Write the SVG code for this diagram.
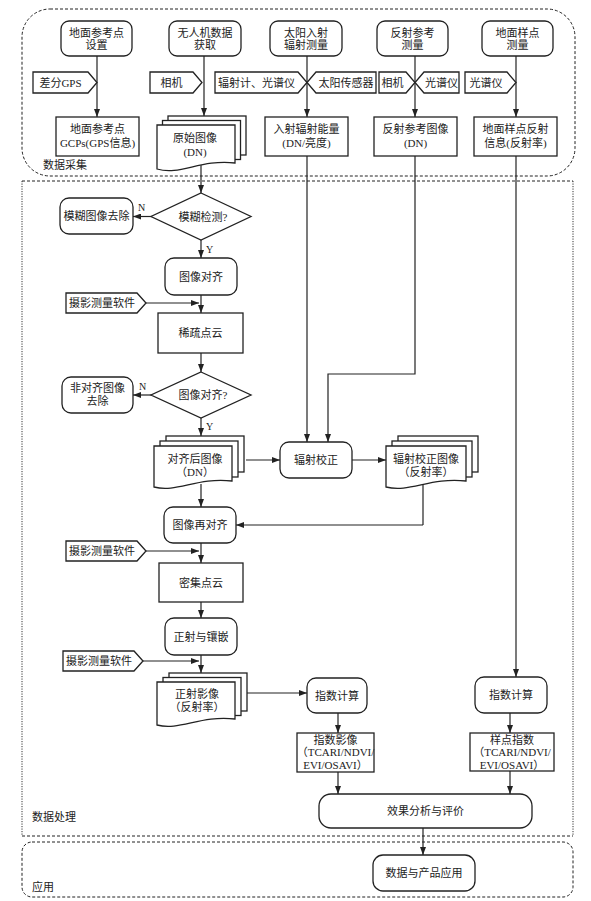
<svg xmlns="http://www.w3.org/2000/svg" width="591" height="901" viewBox="0 0 591 901">
<defs>
<marker id="ah" markerWidth="8" markerHeight="6" refX="8" refY="3" orient="auto" markerUnits="userSpaceOnUse"><path d="M0,0 L8,3 L0,6 Z" fill="#222"/></marker>
<style>
.n{fill:#fff;stroke:#222;stroke-width:1.3}
.c{fill:none;stroke:#222;stroke-width:1.2;marker-end:url(#ah)}
.l{fill:none;stroke:#222;stroke-width:1.2}
.t{font-family:"Liberation Serif","Noto Sans CJK SC",serif;font-size:11px;fill:#222;text-anchor:middle}
.lb{font-family:"Liberation Serif","Noto Sans CJK SC",serif;font-size:11px;fill:#222}
.r{fill:none;stroke:#222;stroke-width:1;stroke-dasharray:3 2}
.rd{fill:none;stroke:#333;stroke-width:1;stroke-dasharray:1.2 1.3}
</style>
</defs>
<rect width="591" height="901" fill="#fff"/>
<g id="regions">
<rect class="r" x="22" y="9" width="553" height="167" rx="28"/>
<text class="lb" x="43" y="169">数据采集</text>
<line class="r" x1="22" y1="181" x2="573" y2="181"/>
<line class="r" x1="22" y1="836" x2="573" y2="836"/>
<line class="rd" x1="22" y1="181" x2="22" y2="836"/>
<line class="rd" x1="573" y1="181" x2="573" y2="836"/>
<text class="lb" x="32" y="821">数据处理</text>
<rect class="r" x="22" y="842" width="551" height="55" rx="10"/>
<text class="lb" x="32" y="891">应用</text>
</g>
<g id="connectors">
<path class="c" d="M97,56 V117"/>
<path class="c" d="M204,56 V116"/>
<path class="c" d="M307,56 V117"/>
<path class="c" d="M415,56 V117"/>
<path class="c" d="M516,56 V117"/>
<path class="c" d="M307,156 V442"/>
<path class="c" d="M415,156 V374 H328 V442"/>
<path class="c" d="M516,156 V677"/>
<path class="c" d="M201,165 V193"/>
<path class="c" d="M152,216.5 H133"/>
<path class="c" d="M201,240 V258"/>
<path class="c" d="M201,295 V313"/>
<path class="c" d="M146,303 H199"/>
<path class="c" d="M201,353 V372"/>
<path class="c" d="M152,395 H133"/>
<path class="c" d="M201,418 V436"/>
<path class="c" d="M246,460 H280"/>
<path class="c" d="M352,460 H386"/>
<path class="l" d="M423,480 V525"/>
<path class="c" d="M423,525 H236"/>
<path class="c" d="M201,484 V507"/>
<path class="c" d="M146,551 H199"/>
<path class="c" d="M201,543 V563"/>
<path class="c" d="M201,602 V618"/>
<path class="c" d="M143,661 H199"/>
<path class="c" d="M201,655 V673"/>
<path class="c" d="M247,693 H307"/>
<path class="c" d="M338,713 V733"/>
<path class="c" d="M510,713 V733"/>
<path class="c" d="M338,772 V794"/>
<path class="c" d="M510,771 V794"/>
<path class="c" d="M423,828 V855"/>
<text class="lb" x="138" y="211" style="font-size:10px">N</text>
<text class="lb" x="206" y="253" style="font-size:10px">Y</text>
<text class="lb" x="139" y="390" style="font-size:10px">N</text>
<text class="lb" x="206" y="430" style="font-size:10px">Y</text>
</g>
<g id="n-dmckd">
<rect class="n" x="61" y="21" width="71" height="35" rx="8"/>
<text class="t" x="96.5" y="36.5">地面参考点</text><text class="t" x="96.5" y="49">设置</text>
</g>
<g id="n-uav">
<rect class="n" x="169" y="21" width="72" height="35" rx="8"/>
<text class="t" x="205" y="36.5">无人机数据</text><text class="t" x="205" y="49">获取</text>
</g>
<g id="n-sun">
<rect class="n" x="270" y="21" width="72" height="35" rx="8"/>
<text class="t" x="306" y="36.5">太阳入射</text><text class="t" x="306" y="49">辐射测量</text>
</g>
<g id="n-refl">
<rect class="n" x="377" y="21" width="71" height="35" rx="8"/>
<text class="t" x="412.5" y="36.5">反射参考</text><text class="t" x="412.5" y="49">测量</text>
</g>
<g id="n-sample">
<rect class="n" x="482" y="21" width="71" height="35" rx="8"/>
<text class="t" x="517.5" y="36.5">地面样点</text><text class="t" x="517.5" y="49">测量</text>
</g>
<g id="tag-gps"><path class="n" d="M33,72 H88 L97,82.5 L88,93 H33 Z"/><text class="t" x="60.5" y="86.5">差分GPS</text></g>
<g id="tag-cam1"><path class="n" d="M150,72 H193 L202,82.5 L193,93 H150 Z"/><text class="t" x="171.5" y="86.5">相机</text></g>
<g id="tag-rad"><path class="n" d="M215,72 H298 L307,82.5 L298,93 H215 Z"/><text class="t" x="256.5" y="86.5">辐射计、光谱仪</text></g>
<g id="tag-sunsensor"><path class="n" d="M376,72 H316 L307,82.5 L316,93 H376 Z"/><text class="t" x="346" y="86.5">太阳传感器</text></g>
<g id="tag-cam2"><path class="n" d="M379,72 H406 L415,82.5 L406,93 H379 Z"/><text class="t" x="392.5" y="86.5">相机</text></g>
<g id="tag-spec1"><path class="n" d="M459,72 H424 L415,82.5 L424,93 H459 Z"/><text class="t" x="441.5" y="86.5">光谱仪</text></g>
<g id="tag-spec2"><path class="n" d="M465,72 H507 L516,82.5 L507,93 H465 Z"/><text class="t" x="486" y="86.5">光谱仪</text></g>
<g id="n-gcp">
<rect class="n" x="56" y="117" width="83" height="39"/>
<text class="t" x="97.5" y="133">地面参考点</text><text class="t" x="97.5" y="146.5">GCPs(GPS信息)</text>
</g>
<g id="n-raw">
<rect class="n" x="168" y="116" width="78" height="39"/>
<rect class="n" x="162.5" y="120.5" width="78" height="39"/>
<path class="n" d="M157,125 H235 V163 C200,159 180,176 157,169 Z"/>
<text class="t" x="195" y="142">原始图像</text><text class="t" x="195" y="156">(DN)</text>
</g>
<g id="n-irr">
<rect class="n" x="265" y="117" width="83" height="39"/>
<text class="t" x="306.5" y="133">入射辐射能量</text><text class="t" x="306.5" y="146.5">(DN/亮度)</text>
</g>
<g id="n-refimg">
<rect class="n" x="374" y="117" width="83" height="39"/>
<text class="t" x="415.5" y="133">反射参考图像</text><text class="t" x="415.5" y="146.5">(DN)</text>
</g>
<g id="n-sampleinfo">
<rect class="n" x="474" y="117" width="83" height="39"/>
<text class="t" x="515.5" y="133">地面样点反射</text><text class="t" x="515.5" y="146.5">信息(反射率)</text>
</g>
<g id="n-blur">
<path class="n" d="M201,193 L251,216.5 L201,240 L151,216.5 Z"/>
<text class="t" x="203" y="220.5">模糊检测?</text>
</g>
<g id="n-blurrm">
<rect class="n" x="60" y="198" width="73" height="36" rx="9"/>
<text class="t" x="96.5" y="220">模糊图像去除</text>
</g>
<g id="n-align">
<rect class="n" x="165" y="258" width="72" height="37" rx="9"/>
<text class="t" x="201" y="280.5">图像对齐</text>
</g>
<g id="tag-soft1"><path class="n" d="M66,293 H137 L146,303 L137,313 H66 Z"/><text class="t" x="102" y="307">摄影测量软件</text></g>
<g id="n-sparse">
<rect class="n" x="158" y="313" width="85" height="40"/>
<text class="t" x="200.5" y="337">稀疏点云</text>
</g>
<g id="n-aligned">
<path class="n" d="M201,372 L251,395 L201,418 L151,395 Z"/>
<text class="t" x="203" y="399">图像对齐?</text>
</g>
<g id="n-unalign">
<rect class="n" x="62" y="377" width="71" height="36" rx="9"/>
<text class="t" x="97.5" y="392">非对齐图像</text><text class="t" x="97.5" y="405">去除</text>
</g>
<g id="n-alignedimg">
<rect class="n" x="166" y="436" width="78" height="36"/>
<rect class="n" x="160" y="441" width="78" height="36"/>
<path class="n" d="M154,446 H232 V481 C197,477 177,493 154,487 Z"/>
<text class="t" x="195" y="463">对齐后图像</text><text class="t" x="195" y="476">（DN）</text>
</g>
<g id="n-radcal">
<rect class="n" x="280" y="442" width="72" height="36" rx="9"/>
<text class="t" x="316" y="464">辐射校正</text>
</g>
<g id="n-radimg">
<rect class="n" x="398" y="436" width="80" height="36"/>
<rect class="n" x="392" y="441" width="80" height="36"/>
<path class="n" d="M386,446 H466 V481 C430,477 410,493 386,487 Z"/>
<text class="t" x="426" y="463">辐射校正图像</text><text class="t" x="426" y="476">（反射率）</text>
</g>
<g id="n-realign">
<rect class="n" x="164" y="507" width="72" height="36" rx="9"/>
<text class="t" x="200" y="529">图像再对齐</text>
</g>
<g id="tag-soft2"><path class="n" d="M66,541 H137 L146,551 L137,561 H66 Z"/><text class="t" x="102" y="555">摄影测量软件</text></g>
<g id="n-dense">
<rect class="n" x="159" y="563" width="84" height="39"/>
<text class="t" x="201" y="586.5">密集点云</text>
</g>
<g id="n-ortho">
<rect class="n" x="165" y="618" width="72" height="37" rx="9"/>
<text class="t" x="201" y="640.5">正射与镶嵌</text>
</g>
<g id="tag-soft3"><path class="n" d="M63,651 H134 L143,661 L134,671 H63 Z"/><text class="t" x="99" y="665">摄影测量软件</text></g>
<g id="n-orthoimg">
<rect class="n" x="169" y="673" width="78" height="38"/>
<rect class="n" x="163" y="677.5" width="78" height="38"/>
<path class="n" d="M157,682 H235 V719 C200,715 180,731 157,725 Z"/>
<text class="t" x="197" y="698">正射影像</text><text class="t" x="197" y="711">（反射率）</text>
</g>
<g id="n-idx1">
<rect class="n" x="307" y="678" width="60" height="35" rx="9"/>
<text class="t" x="337" y="699.5">指数计算</text>
</g>
<g id="n-idx2">
<rect class="n" x="475" y="677" width="72" height="36" rx="9"/>
<text class="t" x="511" y="699">指数计算</text>
</g>
<g id="n-idximg">
<rect class="n" x="297" y="733" width="77" height="39"/>
<text class="t" x="335.5" y="743.5">指数影像</text><text class="t" x="335.5" y="756">（TCARI/NDVI/</text><text class="t" x="335.5" y="768.5">EVI/OSAVI）</text>
</g>
<g id="n-sampleidx">
<rect class="n" x="470" y="733" width="84" height="38"/>
<text class="t" x="512" y="743.5">样点指数</text><text class="t" x="512" y="756">（TCARI/NDVI/</text><text class="t" x="512" y="768.5">EVI/OSAVI）</text>
</g>
<g id="n-eval">
<rect class="n" x="319" y="794" width="213" height="34" rx="12"/>
<text class="t" x="425.5" y="815">效果分析与评价</text>
</g>
<g id="n-app">
<rect class="n" x="373" y="855" width="102" height="36" rx="10"/>
<text class="t" x="424" y="877">数据与产品应用</text>
</g>
</svg>
